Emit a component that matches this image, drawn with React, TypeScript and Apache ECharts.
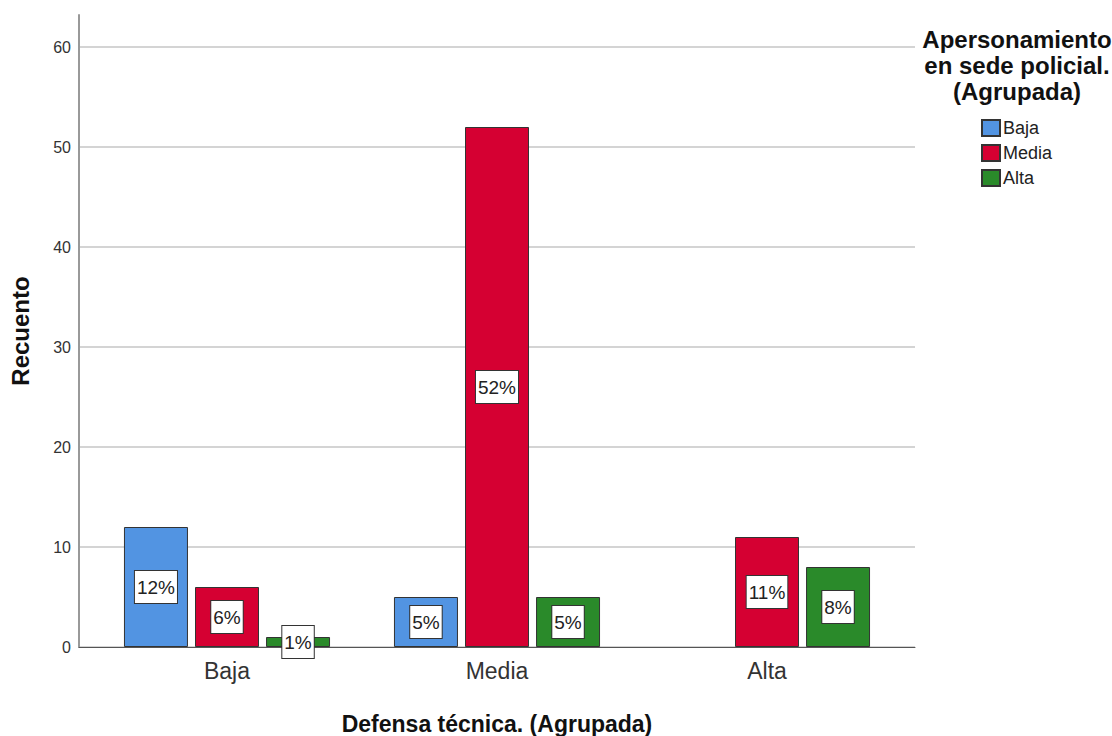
import React, { useEffect, useRef } from "react";
import * as echarts from "echarts";

const categories = ["Baja", "Media", "Alta"];
const seriesNames = ["Baja", "Media", "Alta"];
const bajaValues: (number | null)[] = [12, 5, null];
const mediaValues: (number | null)[] = [6, 52, 11];
const altaValues: (number | null)[] = [1, 5, 8];
const colors = ["#5294e2", "#d50032", "#2a8a2a"];
const yTicks = [0, 10, 20, 30, 40, 50, 60];
const yMax = 63.2;

const xTitle = "Defensa técnica. (Agrupada)";
const yTitle = "Recuento";
const legendTitle = "Apersonamiento\nen sede policial.\n(Agrupada)";

export default function App() {
  const ref = useRef<HTMLDivElement>(null);
  useEffect(() => {
    document.body.style.margin = "0";
    if (!ref.current) return;
    const chart = echarts.init(ref.current, undefined, { renderer: "svg" });
    const all = [bajaValues, mediaValues, altaValues];
    const total = all.flat().reduce((s: number, v) => s + (v ?? 0), 0);
    const font = "'Liberation Sans', Arial, sans-serif";
    const splitColors = yTicks.map(() => "#d4d4d4").concat(["rgba(0,0,0,0)"]);

    const series = all.map((vals, i) => ({
      name: seriesNames[i],
      type: "bar",
      xAxisIndex: 1,
      yAxisIndex: 1,
      data: vals,
      barWidth: 64,
      barGap: "11%",
      itemStyle: { color: colors[i], borderColor: "#333", borderWidth: 1 },
      label: {
        show: true,
        position: "inside",
        formatter: (p: any) =>
          p.value == null ? "" : Math.round((p.value / total) * 100) + "%",
        fontFamily: font,
        fontSize: 19,
        color: "#222",
        backgroundColor: "#fff",
        borderColor: "#333",
        borderWidth: 1,
        padding: [7, 2, 6, 2],
      },
    }));

    chart.setOption({
      animation: false,
      backgroundColor: "#fff",
      textStyle: { fontFamily: font },
      title: {
        text: legendTitle,
        left: 1017,
        top: 26,
        padding: 0,
        textAlign: "center",
        textStyle: {
          fontFamily: font,
          fontSize: 24,
          fontWeight: "bold",
          color: "#111",
          lineHeight: 26,
        },
      },
      legend: {
        data: seriesNames,
        orient: "vertical",
        left: 981,
        top: 119,
        padding: 0,
        itemWidth: 18,
        itemHeight: 16,
        itemGap: 7,
        icon: "rect",
        textStyle: { fontFamily: font, fontSize: 18, color: "#222", padding: [0, 0, 0, -2] },
      },
      grid: [
        { left: 79, right: 197, top: 15, bottom: 89, outerBoundsMode: "none", containLabel: false },
        { left: 92, right: 210, top: 15, bottom: 89, outerBoundsMode: "none", containLabel: false },
      ],
      xAxis: [
        {
          gridIndex: 0,
          type: "category",
          data: categories,
          axisLine: { show: true, lineStyle: { color: "#555", width: 1 } },
          axisTick: { show: false },
          axisLabel: { show: false },
          splitLine: { show: false },
          name: xTitle,
          nameLocation: "middle",
          nameGap: 65,
          nameTextStyle: { fontFamily: font, fontSize: 23, fontWeight: "bold", color: "#111" },
        },
        {
          gridIndex: 1,
          type: "category",
          data: categories,
          axisLine: { show: false },
          axisTick: { show: false },
          axisLabel: { show: true, fontFamily: font, fontSize: 23, color: "#333", margin: 12 },
          splitLine: { show: false },
        },
      ],
      yAxis: [
        {
          gridIndex: 0,
          type: "value",
          min: 0,
          max: yMax,
          interval: 10,
          axisLine: { show: true, lineStyle: { color: "#999", width: 2 } },
          axisTick: { show: false },
          axisLabel: {
            fontFamily: font,
            fontSize: 16,
            color: "#333",
            margin: 8,
            formatter: (v: number) => (yTicks.includes(v) ? String(v) : ""),
          },
          splitLine: { show: true, lineStyle: { color: splitColors, width: 2 } },
          name: yTitle,
          nameLocation: "middle",
          nameGap: 47,
          nameRotate: 90,
          nameTextStyle: { fontFamily: font, fontSize: 24, fontWeight: "bold", color: "#111" },
        },
        {
          gridIndex: 1,
          type: "value",
          min: 0,
          max: yMax,
          show: false,
          splitLine: { show: false },
        },
      ],
      series,
    });
    return () => chart.dispose();
  }, []);
  return <div ref={ref} style={{ width: 1112, height: 736 }} />;
}
